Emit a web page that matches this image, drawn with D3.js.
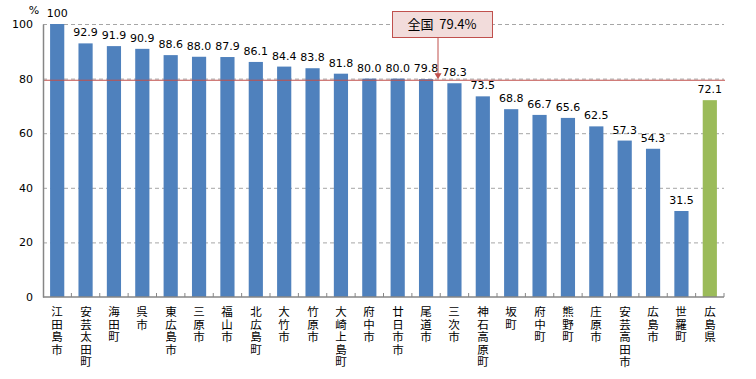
<!DOCTYPE html>
<html>
<head>
<meta charset="utf-8">
<script src="https://cdn.jsdelivr.net/npm/d3@7"></script>
<style>
  body { margin: 0; background: #fff; }
  text { font-family: "DejaVu Sans", "Noto Sans CJK JP", sans-serif; fill: #000; }
</style>
</head>
<body>
<script>
// categories and values
var names = ["江田島市","安芸太田町","海田町","呉市","東広島市","三原市","福山市","北広島町","大竹市","竹原市",
  "大崎上島町","府中市","廿日市市","尾道市","三次市","神石高原町","坂町","府中町","熊野町","庄原市",
  "安芸高田市","広島市","世羅町","広島県"];
var values = [100,92.9,91.9,90.9,88.6,88.0,87.9,86.1,84.4,83.8,81.8,80.0,80.0,79.8,78.3,73.5,68.8,66.7,65.6,62.5,57.3,54.3,31.5,72.1];
var yTicks = [0,20,40,60,80,100];
var national = 79.4;

var width = 756, height = 379;
var svg = d3.select("body").append("svg").attr("width", width).attr("height", height);

var x = d3.scaleBand().domain(names).range([43, 724]).paddingInner(0.5).paddingOuter(0.25);
var y = d3.scaleLinear().domain([0, 100]).range([297, 24]);

// gridlines
svg.selectAll(".grid").data(yTicks.filter(function(d){ return d > 0; }))
  .enter().append("line")
  .attr("x1", 43).attr("x2", 724)
  .attr("y1", function(d){ return y(d) + 0.5; }).attr("y2", function(d){ return y(d) + 0.5; })
  .attr("stroke", "#a6a6a6").attr("stroke-dasharray", "4,3");

// bars
svg.selectAll(".bar").data(values).enter().append("rect")
  .attr("x", function(d, i){ return x(names[i]); })
  .attr("y", function(d){ return y(d); })
  .attr("width", x.bandwidth())
  .attr("height", function(d){ return y(0) - y(d); })
  .attr("fill", function(d, i){ return i === names.length - 1 ? "#9bbb59" : "#4f81bd"; });

// value labels
svg.selectAll(".val").data(values).enter().append("text")
  .attr("x", function(d, i){ return x(names[i]) + x.bandwidth() / 2; })
  .attr("y", function(d){ return y(d) - 7; })
  .attr("text-anchor", "middle")
  .style("font-size", "11px")
  .text(function(d){ return d === 100 ? "100" : d.toFixed(1); });

// national line
svg.append("line").attr("x1", 43).attr("x2", 725)
  .attr("y1", y(national)).attr("y2", y(national))
  .attr("stroke", "#c0504d").attr("stroke-width", 1.2);

// y axis
var yAxis = svg.append("g").attr("transform", "translate(43,0)")
  .call(d3.axisLeft(y).tickValues(yTicks).tickSize(0).tickPadding(10));
yAxis.select(".domain").attr("stroke", "#868686").attr("stroke-width", 1.5);
yAxis.selectAll("text").style("font-size", "11px").style("font-family", "DejaVu Sans");

// x axis
var xAxisG = svg.append("g").attr("transform", "translate(0," + y(0) + ")");
xAxisG.append("line").attr("x1", 43).attr("x2", 724).attr("stroke", "#868686").attr("stroke-width", 1.5);
var step = x.step();
xAxisG.selectAll(".tk").data(names).enter().append("line")
  .attr("x1", function(d){ return x(d) - x.paddingOuter() * step + step; })
  .attr("x2", function(d){ return x(d) - x.paddingOuter() * step + step; })
  .attr("y1", 0).attr("y2", -4)
  .attr("stroke", "#868686");

// vertical category labels, one character per line
svg.selectAll(".cat").data(names).enter().append("text")
  .attr("text-anchor", "middle")
  .style("font-size", "11.5px")
  .style("font-family", "Noto Sans CJK JP")
  .each(function(d){
    var t = d3.select(this);
    var cx = Math.round(x(d) + x.bandwidth() / 2);
    d.split("").forEach(function(c, k){
      t.append("tspan").attr("x", cx).attr("y", Math.round(316 + k * 12.6)).text(c);
    });
  });

// percent unit
svg.append("text").attr("x", 34).attr("y", 14).attr("text-anchor", "middle")
  .style("font-size", "11px").text("%");

// callout
var ax = 438;
svg.append("rect").attr("x", 392.5).attr("y", 11.5).attr("width", 100).attr("height", 26)
  .attr("fill", "#f2dcdb").attr("stroke", "#c0504d");
svg.append("text").attr("x", 442).attr("y", 29).attr("text-anchor", "middle")
  .style("font-size", "13px").style("font-family", "Noto Sans CJK JP")
  .text("全国\u00a0\u00a079.4%");
svg.append("line").attr("x1", ax).attr("x2", ax).attr("y1", 38).attr("y2", y(national) - 5)
  .attr("stroke", "#c0504d");
svg.append("path")
  .attr("d", "M" + (ax - 3.5) + "," + (y(national) - 7) + "L" + (ax + 3.5) + "," + (y(national) - 7) + "L" + ax + "," + (y(national) - 1) + "Z")
  .attr("fill", "#c0504d");
</script>
</body>
</html>
